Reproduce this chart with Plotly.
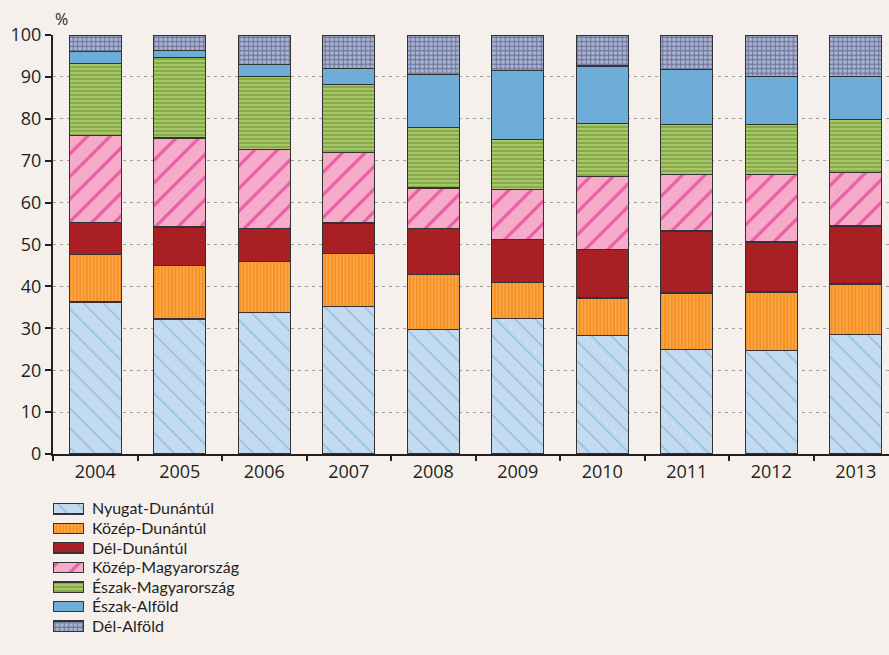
import plotly.graph_objects as go

years = ['2004', '2005', '2006', '2007', '2008', '2009', '2010', '2011', '2012', '2013']

# region shares, % (bottom to top of each stack)
nyugat_dunantul = [36.3, 32.2, 33.8, 35.2, 29.7, 32.4, 28.3, 25.0, 24.7, 28.5]
kozep_dunantul = [11.4, 12.8, 12.2, 12.6, 13.1, 8.6, 8.9, 13.4, 14.0, 12.1]
del_dunantul = [7.6, 9.2, 7.9, 7.3, 11.0, 10.2, 11.6, 14.8, 11.9, 13.8]
kozep_magyarorszag = [20.7, 21.2, 18.7, 16.8, 9.7, 12.0, 17.5, 13.5, 16.1, 12.8]
eszak_magyarorszag = [17.2, 19.2, 17.5, 16.3, 14.5, 11.9, 12.6, 11.9, 11.9, 12.7]
eszak_alfold = [2.9, 1.7, 2.8, 3.8, 12.5, 16.5, 13.7, 13.1, 11.5, 10.2]
del_alfold = [3.9, 3.7, 7.1, 8.0, 9.5, 8.4, 7.4, 8.3, 9.9, 9.9]

regions = ['Nyugat-Dunántúl', 'Közép-Dunántúl', 'Dél-Dunántúl', 'Közép-Magyarország',
           'Észak-Magyarország', 'Észak-Alföld', 'Dél-Alföld']
values = [nyugat_dunantul, kozep_dunantul, del_dunantul, kozep_magyarorszag,
          eszak_magyarorszag, eszak_alfold, del_alfold]

# fill colour, pattern colour, pattern shape, size, solidity
styles = [
    ('#c4dbef', '#6aa8d8', '\\', 14, 0.13),
    ('#f7901e', '#fcc88e', '|', 3.4, 0.4),
    ('#a81f24', None, '', 0, 0),
    ('#f6abc9', '#de0f86', '/', 16, 0.2),
    ('#86ac42', '#d3e2b0', '-', 4, 0.45),
    ('#6fadd9', None, '', 0, 0),
    ('#aeb6d0', '#27346a', '+', 4.5, 0.45),
]

ink = '#231f20'
bg = '#f6f0ed'


def make_marker(col, fg, shape, size, solid):
    m = dict(color=col, line=dict(color='#333333', width=1.3))
    if shape:
        m['pattern'] = dict(shape=shape, fgcolor=fg, bgcolor=col, fillmode='overlay',
                            size=size, solidity=solid)
    return m


fig = go.Figure()
for name, vals, st in zip(regions, values, styles):
    fig.add_trace(go.Bar(x=years, y=vals, name=name, width=0.615,
                         marker=make_marker(*st), xaxis='x', yaxis='y'))

# legend drawn as a small horizontal bar panel so swatches are wide like the original
for name, st in zip(regions, styles):
    fig.add_trace(go.Bar(x=[1], y=[name], orientation='h', width=0.52,
                         marker=make_marker(*st), xaxis='x2', yaxis='y2',
                         hoverinfo='skip'))

num_font = dict(family='Open Sans', size=18, color=ink)

fig.update_layout(
    width=889, height=655,
    barmode='stack',
    paper_bgcolor=bg, plot_bgcolor=bg,
    margin=dict(l=53, r=0, t=35, b=19),
    font=dict(family='Lato', size=16, color=ink),
    showlegend=False,
    xaxis=dict(
        type='category', range=[-0.5, 9.393], domain=[0, 1], anchor='y',
        showline=True, linecolor=ink, linewidth=2, automargin=False,
        ticks='outside', tickson='boundaries', ticklen=5, tickcolor=ink, tickwidth=2,
        showgrid=False, tickfont=num_font,
    ),
    yaxis=dict(
        domain=[0.3028, 1], anchor='x', range=[0, 100], tickvals=list(range(0, 101, 10)),
        showline=True, linecolor=ink, linewidth=2, automargin=False,
        ticks='outside', ticklen=6, tickcolor=ink, tickwidth=2,
        showgrid=True, gridcolor='#9c9c9c', griddash='3px,4px', gridwidth=1.4,
        zeroline=False, tickfont=num_font,
    ),
    xaxis2=dict(domain=[0, 0.037], anchor='y2', range=[0, 1], visible=False, fixedrange=True),
    yaxis2=dict(
        domain=[0, 0.228], anchor='x2', side='right', type='category',
        autorange='reversed', showline=False, showgrid=False, zeroline=False,
        tickmode='array', tickvals=regions, ticktext=regions,
        ticks='', ticklabelstandoff=7, automargin=False,
        tickfont=dict(family='Lato', size=16, color=ink),
    ),
    annotations=[dict(text='%', xref='paper', yref='y domain', x=0, y=1, xanchor='left',
                      yanchor='bottom', yshift=3, showarrow=False,
                      font=dict(family='Open Sans', size=16, color=ink))],
)

fig.write_html(
    'out.html',
    config={'displayModeBar': False},
    post_script="document.body.style.margin='0';document.body.style.background='%s';" % bg,
)
